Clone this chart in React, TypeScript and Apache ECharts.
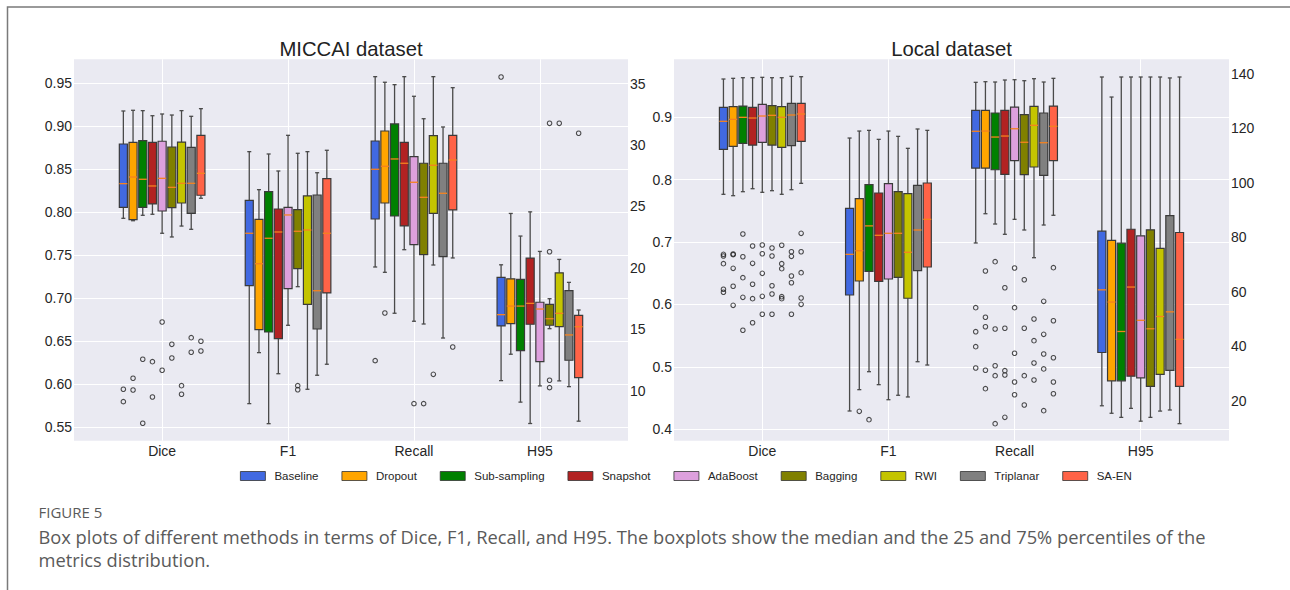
import React, { useEffect, useRef } from 'react';
import * as echarts from 'echarts';

const methods = ['Baseline', 'Dropout', 'Sub-sampling', 'Snapshot', 'AdaBoost', 'Bagging', 'RWI', 'Triplanar', 'SA-EN'];
const colors = ['#4169E1', '#FFA500', '#008000', '#B22222', '#DDA0DD', '#808000', '#C4C400', '#808080', '#FF6347'];
const metrics = ['Dice', 'F1', 'Recall', 'H95'];

const leftTicks = [0.55, 0.6, 0.65, 0.7, 0.75, 0.8, 0.85, 0.9, 0.95];
const leftH95Ticks = [10, 15, 20, 25, 30, 35];
const rightTicks = [0.4, 0.5, 0.6, 0.7, 0.8, 0.9];
const rightH95Ticks = [20, 40, 60, 80, 100, 120, 140];

// each row: [lower whisker, q1, median, q3, upper whisker]
const miccaiDice = [
  [0.793, 0.8058, 0.8333, 0.8794, 0.9178],
  [0.7902, 0.7914, 0.841, 0.8814, 0.9186],
  [0.7965, 0.8058, 0.8384, 0.8833, 0.9182],
  [0.7977, 0.8097, 0.8306, 0.8814, 0.9123],
  [0.7756, 0.8015, 0.8395, 0.8826, 0.9143],
  [0.7713, 0.8054, 0.829, 0.8759, 0.9131],
  [0.784, 0.8108, 0.8337, 0.8817, 0.9182],
  [0.7802, 0.7988, 0.8337, 0.8756, 0.9116],
  [0.8163, 0.8198, 0.8453, 0.8895, 0.9205],
];
const miccaiDiceOut = [
  [0.5942, 0.5798], [0.607, 0.5934], [0.6291, 0.5547], [0.6263, 0.5852], [0.6724, 0.6163],
  [0.6465, 0.6306], [0.5984, 0.5884], [0.6542, 0.6372], [0.65, 0.6387],
];
const miccaiF1 = [
  [0.5775, 0.7147, 0.7756, 0.8139, 0.8705],
  [0.6368, 0.6635, 0.7402, 0.7918, 0.8263],
  [0.5542, 0.6608, 0.7698, 0.824, 0.8678],
  [0.6123, 0.653, 0.7771, 0.8038, 0.848],
  [0.6686, 0.7112, 0.7969, 0.8058, 0.8895],
  [0.7135, 0.7344, 0.7779, 0.803, 0.8686],
  [0.5942, 0.693, 0.7794, 0.819, 0.8705],
  [0.6105, 0.6643, 0.7088, 0.8201, 0.846],
  [0.6233, 0.7062, 0.7756, 0.8391, 0.8721],
];
const miccaiF1Out = [[], [], [], [], [], [0.5984, 0.5937], [], [], []];
const miccaiRecall = [
  [0.7364, 0.7922, 0.85, 0.8829, 0.9577],
  [0.7302, 0.8108, 0.8535, 0.8945, 0.9512],
  [0.6826, 0.7957, 0.862, 0.9027, 0.9484],
  [0.7565, 0.7841, 0.857, 0.8814, 0.9577],
  [0.6733, 0.7623, 0.8349, 0.8647, 0.9349],
  [0.6701, 0.7507, 0.8174, 0.857, 0.9088],
  [0.7387, 0.7988, 0.8547, 0.8891, 0.9577],
  [0.6538, 0.7484, 0.8221, 0.857, 0.8992],
  [0.7469, 0.8027, 0.8608, 0.8895, 0.9449],
];
const miccaiRecallOut = [[0.6275], [0.6829], [], [], [0.5775], [0.5775], [0.6116], [], [0.6434]];
const miccaiH95 = [
  [10.82, 15.27, 16.19, 19.23, 20.25],
  [12.97, 15.46, 16.89, 19.11, 24.43],
  [9.07, 13.26, 16.89, 19.07, 22.59],
  [7.33, 15.41, 17.11, 20.8, 24.56],
  [10.39, 12.37, 16.65, 17.2, 21.34],
  [15.05, 15.33, 15.86, 17.03, 17.49],
  [10.8, 15.21, 16.3, 19.6, 20.69],
  [10.33, 12.48, 14.54, 18.14, 18.82],
  [7.52, 11.07, 15.21, 16.14, 16.57],
];
const miccaiH95Out = [[35.54], [], [], [], [], [21.31, 10.85, 10.25, 31.77], [31.77], [], [30.96]];

const localDice = [
  [0.7766, 0.8487, 0.8936, 0.916, 0.9614],
  [0.7744, 0.8535, 0.8968, 0.917, 0.9625],
  [0.7808, 0.8583, 0.9, 0.9181, 0.9635],
  [0.7856, 0.8556, 0.8989, 0.916, 0.9635],
  [0.7798, 0.86, 0.9021, 0.9208, 0.9641],
  [0.7824, 0.8556, 0.9032, 0.9186, 0.9635],
  [0.7766, 0.8519, 0.9, 0.917, 0.9635],
  [0.784, 0.8545, 0.9037, 0.9224, 0.9657],
  [0.7942, 0.8615, 0.9053, 0.9224, 0.9651],
];
const localDiceOut = [
  [0.6804, 0.6777, 0.6654, 0.6244, 0.6196],
  [0.681, 0.6799, 0.658, 0.6292, 0.5987],
  [0.713, 0.6766, 0.643, 0.6115, 0.5587],
  [0.6937, 0.666, 0.6324, 0.6093, 0.5708],
  [0.6953, 0.6814, 0.65, 0.6131, 0.5843],
  [0.6905, 0.6777, 0.6301, 0.6168, 0.5843],
  [0.6949, 0.6654, 0.6574, 0.6125, 0.6093],
  [0.6846, 0.6772, 0.6457, 0.6349, 0.5843],
  [0.7141, 0.6846, 0.651, 0.6104, 0.6003],
];
const localF1 = [
  [0.4293, 0.6152, 0.6804, 0.7542, 0.8668],
  [0.4635, 0.6377, 0.6862, 0.7696, 0.878],
  [0.4923, 0.6532, 0.726, 0.792, 0.8791],
  [0.4715, 0.6372, 0.7109, 0.7787, 0.8647],
  [0.4474, 0.6409, 0.7141, 0.7936, 0.878],
  [0.4545, 0.6436, 0.7141, 0.7808, 0.8695],
  [0.4518, 0.61, 0.6837, 0.7776, 0.8503],
  [0.5083, 0.6542, 0.7194, 0.791, 0.8813],
  [0.503, 0.6601, 0.7365, 0.7947, 0.8791],
];
const localF1Out = [[], [0.4288], [0.4154], [], [], [], [], [], []];
const localRecall = [
  [0.6986, 0.8187, 0.8776, 0.9112, 0.9561],
  [0.7455, 0.8187, 0.878, 0.9112, 0.9571],
  [0.729, 0.816, 0.8684, 0.9069, 0.9566],
  [0.7125, 0.8087, 0.87, 0.9112, 0.9598],
  [0.7365, 0.8305, 0.8817, 0.9165, 0.9603],
  [0.7194, 0.808, 0.86, 0.9042, 0.9587],
  [0.675, 0.8204, 0.8872, 0.9176, 0.9619],
  [0.7274, 0.807, 0.8593, 0.9069, 0.9566],
  [0.743, 0.8305, 0.8856, 0.9181, 0.9625],
];
const localRecallOut = [
  [0.5949, 0.5564, 0.5324, 0.4982],
  [0.6537, 0.5795, 0.5644, 0.4946, 0.4651],
  [0.6686, 0.5607, 0.5019, 0.4859, 0.409],
  [0.6269, 0.5619, 0.4939, 0.487, 0.4192],
  [0.6585, 0.5949, 0.5218, 0.4758, 0.4554],
  [0.6397, 0.5619, 0.4859, 0.4389],
  [0.5768, 0.542, 0.5063, 0.479],
  [0.6051, 0.5522, 0.5207, 0.4967, 0.4298],
  [0.659, 0.574, 0.5147, 0.4758, 0.457],
];
const localH95 = [
  [18.15, 37.7, 60.68, 82.2, 138.75],
  [15.4, 27.3, 56.2, 78.8, 131.4],
  [13.9, 27.3, 45.4, 77.8, 138.75],
  [17.2, 29.0, 61.7, 82.9, 138.75],
  [12.5, 28.4, 49.5, 80.5, 138.75],
  [13.9, 25.3, 46.4, 82.7, 138.75],
  [16.2, 29.7, 50.9, 75.9, 138.75],
  [16.6, 31.1, 52.6, 87.9, 138.4],
  [11.6, 25.3, 42.5, 81.7, 138.75],
];
const localH95Out = [[], [], [], [], [], [], [], [], []];

const captionLine1 = 'Box plots of different methods in terms of Dice, F1, Recall, and H95. The boxplots show the median and the 25 and 75% percentiles of the';
const captionLine2 = 'metrics distribution.';

const STEP = 0.077;
const BOX_W = 0.064;
const FONT = "'Liberation Sans', Arial, Helvetica, sans-serif";
const CAP_FONT = "'Open Sans', 'Noto Sans', sans-serif";

const renderBox = (params: any, api: any) => {
  const x = api.value(0);
  const lo = api.coord([x, api.value(1)]);
  const q1 = api.coord([x, api.value(2)]);
  const md = api.coord([x, api.value(3)]);
  const q3 = api.coord([x, api.value(4)]);
  const hi = api.coord([x, api.value(5)]);
  const w = api.size([BOX_W, 0])[0];
  const cx = lo[0];
  const color = api.visual('color');
  const ws = { stroke: '#4a4a4a', lineWidth: 1.3 };
  return {
    type: 'group',
    children: [
      { type: 'line', shape: { x1: cx, y1: lo[1], x2: cx, y2: q1[1] }, style: ws },
      { type: 'line', shape: { x1: cx, y1: q3[1], x2: cx, y2: hi[1] }, style: ws },
      { type: 'line', shape: { x1: cx - w / 4, y1: lo[1], x2: cx + w / 4, y2: lo[1] }, style: ws },
      { type: 'line', shape: { x1: cx - w / 4, y1: hi[1], x2: cx + w / 4, y2: hi[1] }, style: ws },
      {
        type: 'rect',
        shape: { x: cx - w / 2, y: q3[1], width: w, height: q1[1] - q3[1] },
        style: { fill: color, stroke: '#3a3a3a', lineWidth: 1.2 },
      },
      { type: 'line', shape: { x1: cx - w / 2, y1: md[1], x2: cx + w / 2, y2: md[1] }, style: { stroke: '#F5821F', lineWidth: 1.3 } },
    ],
  };
};

const panels = [
  { main: [miccaiDice, miccaiF1, miccaiRecall], mainOut: [miccaiDiceOut, miccaiF1Out, miccaiRecallOut], h95: miccaiH95, h95Out: miccaiH95Out },
  { main: [localDice, localF1, localRecall], mainOut: [localDiceOut, localF1Out, localRecallOut], h95: localH95, h95Out: localH95Out },
];

function buildOption() {
  const series: any[] = [];
  panels.forEach((p, pi) => {
    methods.forEach((m, i) => {
      const off = (i - 4) * STEP;
      series.push({
        type: 'custom',
        name: m,
        xAxisIndex: pi,
        yAxisIndex: pi * 2,
        itemStyle: { color: colors[i] },
        renderItem: renderBox,
        encode: { x: 0, y: [1, 2, 3, 4, 5] },
        data: p.main.map((arr, k) => [k + 1 + off, ...arr[i]]),
        z: 3,
        silent: true,
      });
      series.push({
        type: 'custom',
        name: m,
        xAxisIndex: pi,
        yAxisIndex: pi * 2 + 1,
        itemStyle: { color: colors[i] },
        renderItem: renderBox,
        encode: { x: 0, y: [1, 2, 3, 4, 5] },
        data: [[4 + off, ...p.h95[i]]],
        z: 3,
        silent: true,
      });
    });
    const outMain: number[][] = [];
    p.mainOut.forEach((arr, k) => arr.forEach((vals, i) => vals.forEach((v) => outMain.push([k + 1 + (i - 4) * STEP, v]))));
    const outH: number[][] = [];
    p.h95Out.forEach((vals, i) => vals.forEach((v) => outH.push([4 + (i - 4) * STEP, v])));
    const sc = {
      type: 'scatter',
      symbol: 'circle',
      symbolSize: 4.5,
      itemStyle: { color: 'rgba(0,0,0,0)', borderColor: '#222', borderWidth: 1.1 },
      silent: true,
      z: 4,
    };
    series.push({ ...sc, name: 'out' + pi, xAxisIndex: pi, yAxisIndex: pi * 2, data: outMain });
    series.push({ ...sc, name: 'outH' + pi, xAxisIndex: pi, yAxisIndex: pi * 2 + 1, data: outH });
  });

  const xAxis = [0, 1].map((g) => ({
    type: 'value',
    gridIndex: g,
    min: 0.3,
    max: 4.7,
    axisLine: { show: false },
    axisTick: { show: false, customValues: [1, 2, 3, 4] },
    axisLabel: {
      customValues: [1, 2, 3, 4],
      formatter: (v: number) => metrics[Math.round(v) - 1],
      fontSize: 14,
      color: '#262626',
      fontFamily: FONT,
      margin: 3,
    },
    splitLine: { show: true, lineStyle: { color: '#ffffff', width: 1 } },
  }));

  const yBase = (g: number, pos: string, min: number, max: number, ticks: number[], fmt: (v: number) => string, split: boolean) => ({
    type: 'value',
    gridIndex: g,
    position: pos,
    min,
    max,
    axisLine: { show: false },
    axisTick: { show: false, customValues: ticks },
    axisLabel: { customValues: ticks, formatter: fmt, fontSize: 14, color: '#262626', fontFamily: FONT, margin: 2 },
    splitLine: { show: split, lineStyle: { color: '#ffffff', width: 1 } },
  });

  const yAxis = [
    yBase(0, 'left', 0.5344, 0.9779, leftTicks, (v) => v.toFixed(2), true),
    yBase(0, 'right', 5.93, 36.98, leftH95Ticks, (v) => String(Math.round(v)), false),
    yBase(1, 'left', 0.3817, 0.993, rightTicks, (v) => v.toFixed(1), true),
    yBase(1, 'right', 5.34, 145.24, rightH95Ticks, (v) => String(Math.round(v)), false),
  ];

  return {
    animation: false,
    backgroundColor: '#ffffff',
    grid: [
      { left: 74, top: 59.3, width: 554, height: 381.4, show: true, backgroundColor: '#EAEAF2', borderWidth: 0 },
      { left: 674, top: 59.3, width: 555, height: 381.4, show: true, backgroundColor: '#EAEAF2', borderWidth: 0 },
    ],
    xAxis,
    yAxis,
    legend: {
      data: methods,
      left: 235,
      top: 465,
      icon: 'rect',
      itemWidth: 25,
      itemHeight: 9,
      itemGap: 23,
      itemStyle: { borderColor: '#333', borderWidth: 0.8 },
      textStyle: { fontSize: 11.5, color: '#262626', fontFamily: FONT, padding: [0, 0, 0, 4] },
      selectedMode: false,
    },
    graphic: [
      { type: 'polyline', shape: { points: [[7.5, 590], [7.5, 7], [1290, 7]] }, style: { stroke: '#7a7a7a', lineWidth: 1.5, fill: null } },
      { type: 'text', x: 351, y: 49, style: { text: 'MICCAI dataset', textAlign: 'center', textVerticalAlign: 'middle', fontSize: 20.3, fill: '#222', fontFamily: FONT } },
      { type: 'text', x: 951.5, y: 49, style: { text: 'Local dataset', textAlign: 'center', textVerticalAlign: 'middle', fontSize: 20.3, fill: '#222', fontFamily: FONT } },
      { type: 'text', x: 38.5, y: 512, style: { text: 'FIGURE 5', textVerticalAlign: 'middle', fontSize: 15, fill: '#5a5a5a', fontFamily: CAP_FONT } },
      { type: 'text', x: 38.5, y: 536.5, style: { text: captionLine1, textVerticalAlign: 'middle', fontSize: 18.3, fill: '#5a5a5a', fontFamily: CAP_FONT } },
      { type: 'text', x: 38.5, y: 559.5, style: { text: captionLine2, textVerticalAlign: 'middle', fontSize: 18.3, fill: '#5a5a5a', fontFamily: CAP_FONT } },
    ],
    series,
  };
}

export default function App() {
  const ref = useRef<HTMLDivElement>(null);
  useEffect(() => {
    if (!ref.current) return;
    const chart = echarts.init(ref.current, undefined, { renderer: 'svg' });
    chart.setOption(buildOption() as any);
    return () => chart.dispose();
  }, []);
  return <div ref={ref} style={{ position: 'fixed', left: 0, top: 0, width: 1290, height: 590 }} />;
}
